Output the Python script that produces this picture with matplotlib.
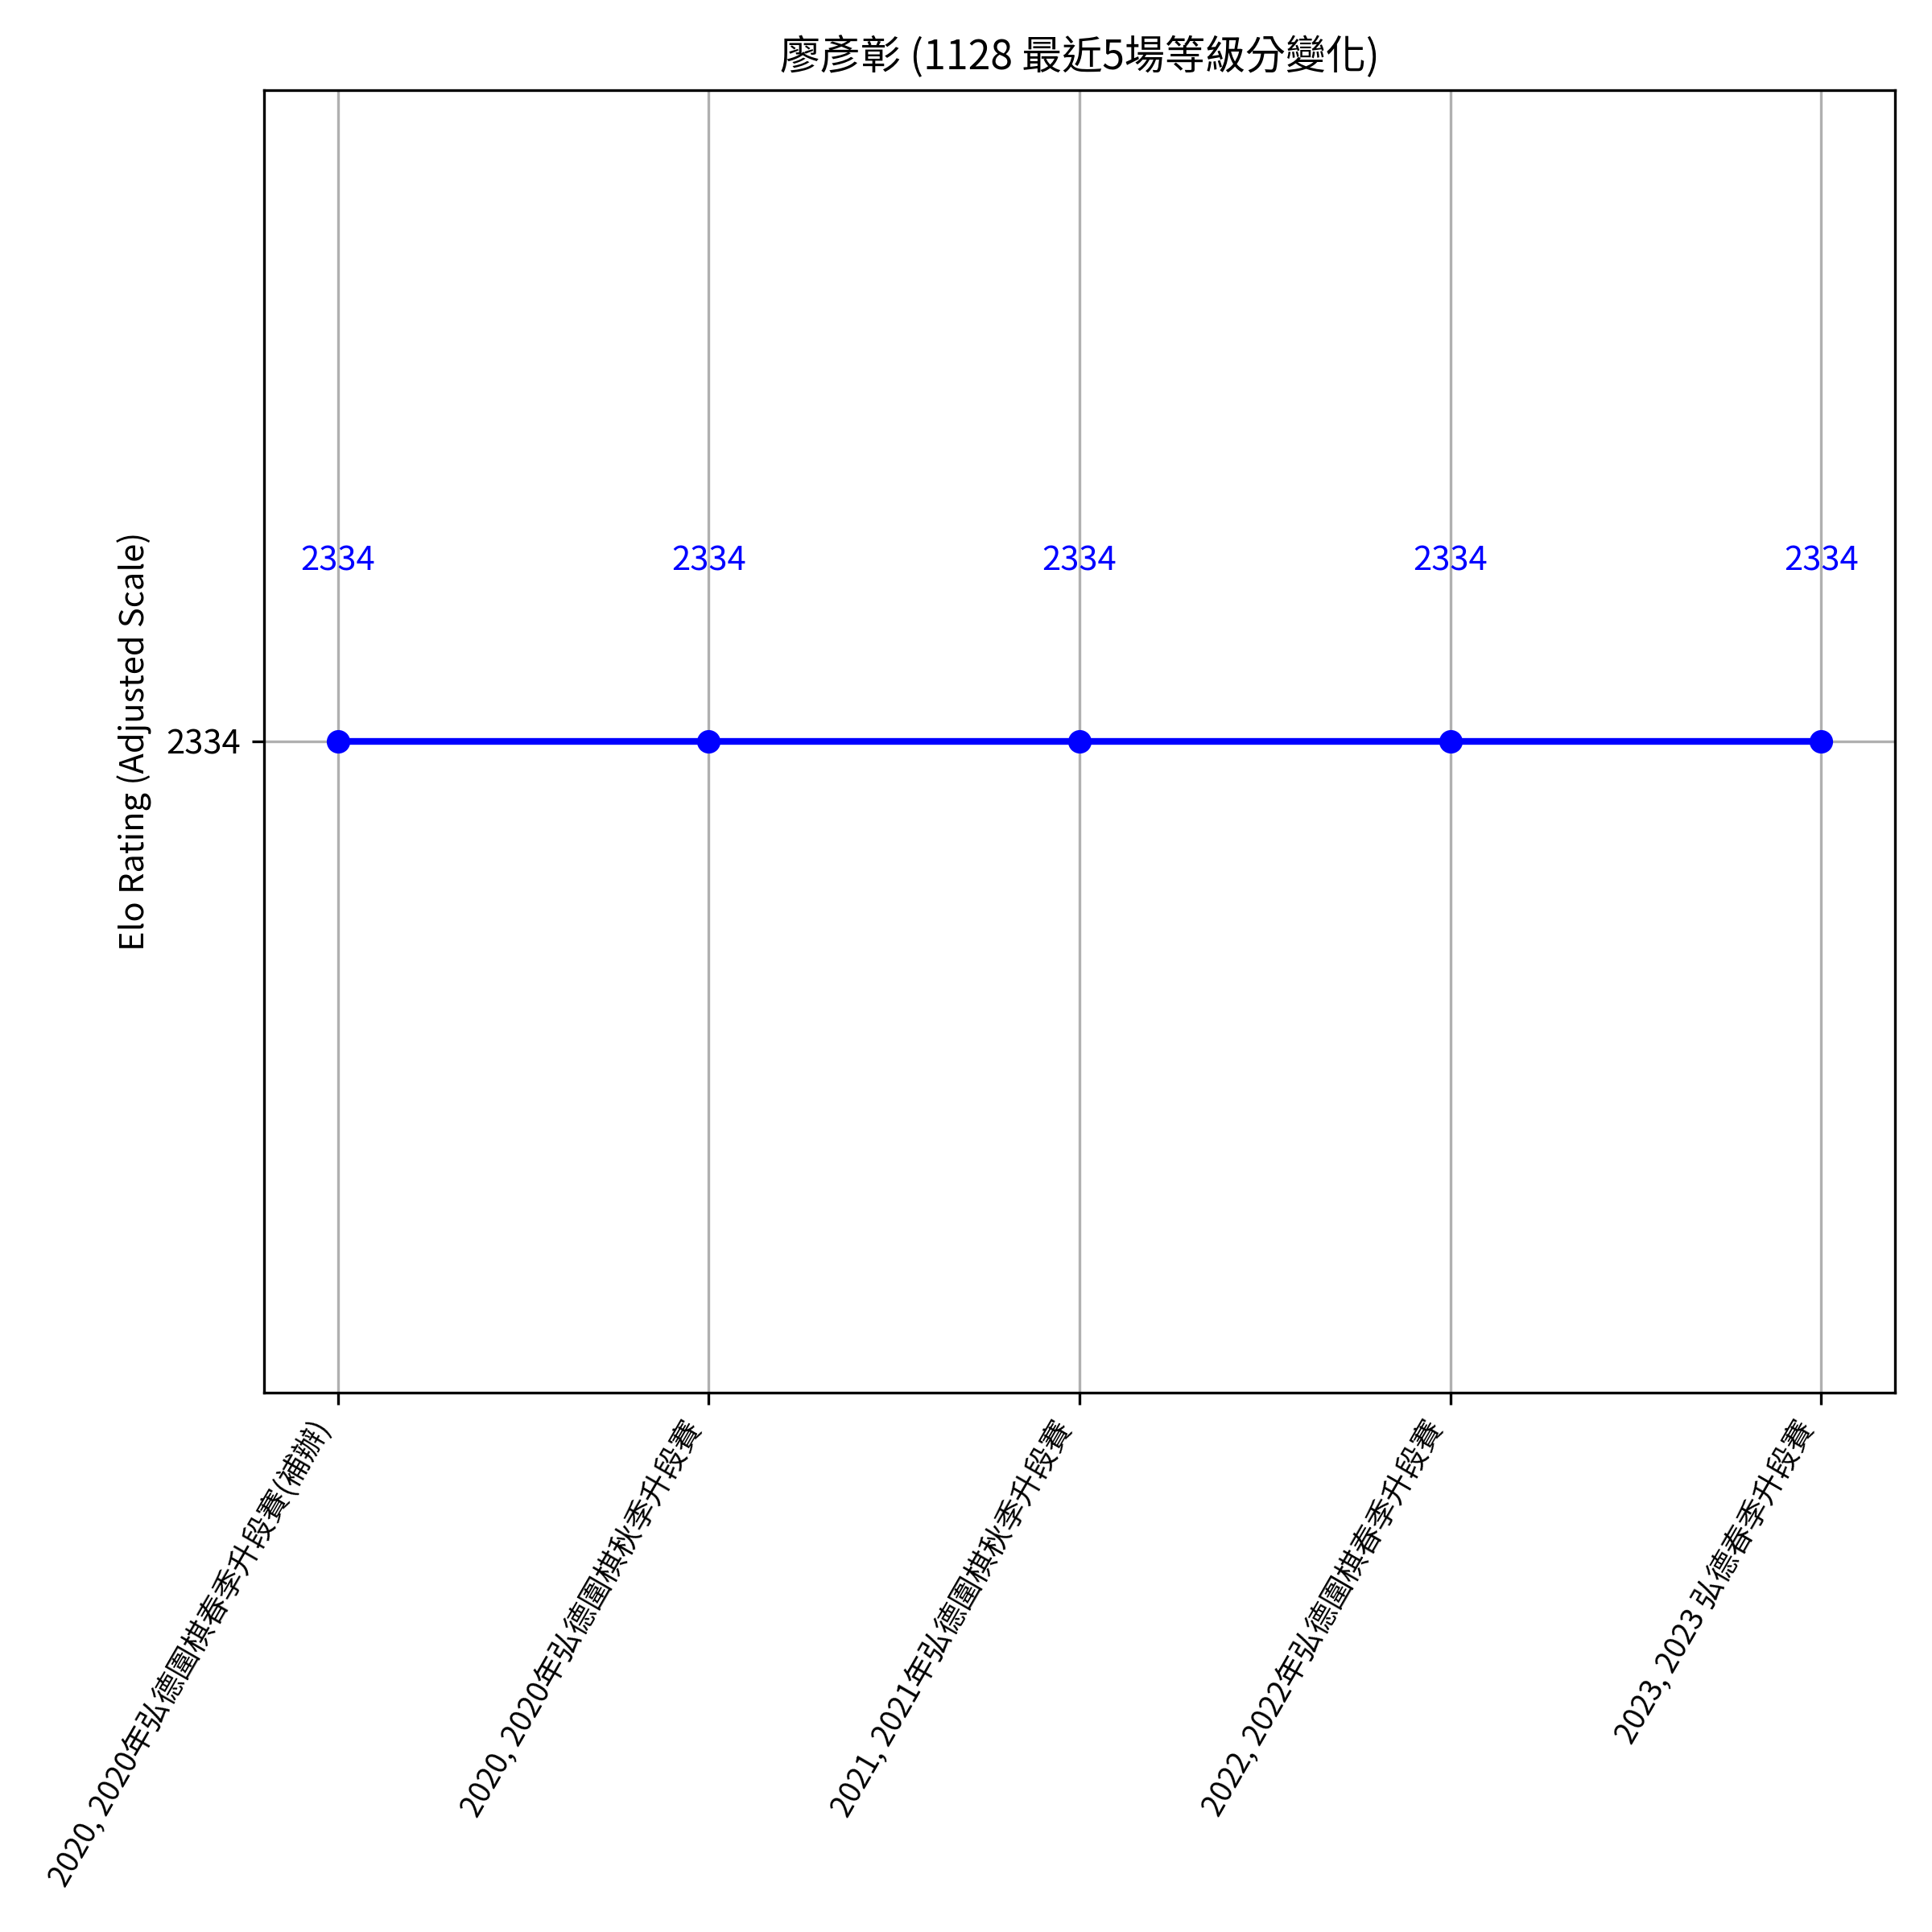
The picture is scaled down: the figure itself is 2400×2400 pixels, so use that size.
import matplotlib
matplotlib.use("Agg")
import matplotlib.pyplot as plt

plt.rcParams['font.family'] = ['Noto Sans CJK TC', 'DejaVu Sans']

# data
years = ["2020", "2020", "2021", "2022", "2023"]
events = ["2020年弘德圍棋春季升段賽(補辦)", "2020年弘德圍棋秋季升段賽",
          "2021年弘德圍棋秋季升段賽", "2022年弘德圍棋春季升段賽",
          "2023 弘德春季升段賽"]
ratings = [2334, 2334, 2334, 2334, 2334]

labels = [f"{y}, {e}" for y, e in zip(years, events)]
x = list(range(len(labels)))

fig, ax = plt.subplots(figsize=(8, 8), dpi=300)
ax.plot(x, ratings, marker='o', color='blue', linewidth=2, markersize=6)

for xi, r in zip(x, ratings):
    ax.annotate(f"{r}", (xi, r), textcoords="offset points", xytext=(0, 51),
                ha='center', va='baseline', color='blue', fontsize=10)

lo, hi = min(ratings), max(ratings)
ax.set_ylim(lo - 10, hi + 10)
ax.set_yticks(sorted(set(ratings)))
ax.set_xticks(x)
ax.set_xticklabels(labels, rotation=60, ha='right', fontsize=9)

ax.set_title("廖彥彰 (1128 最近5場等級分變化)", fontsize=12)
ax.set_ylabel("Elo Rating (Adjusted Scale)")
ax.grid(True)

plt.subplots_adjust(left=0.1365, right=0.981, top=0.9535, bottom=0.2793)
plt.savefig("out.png", dpi=300)
